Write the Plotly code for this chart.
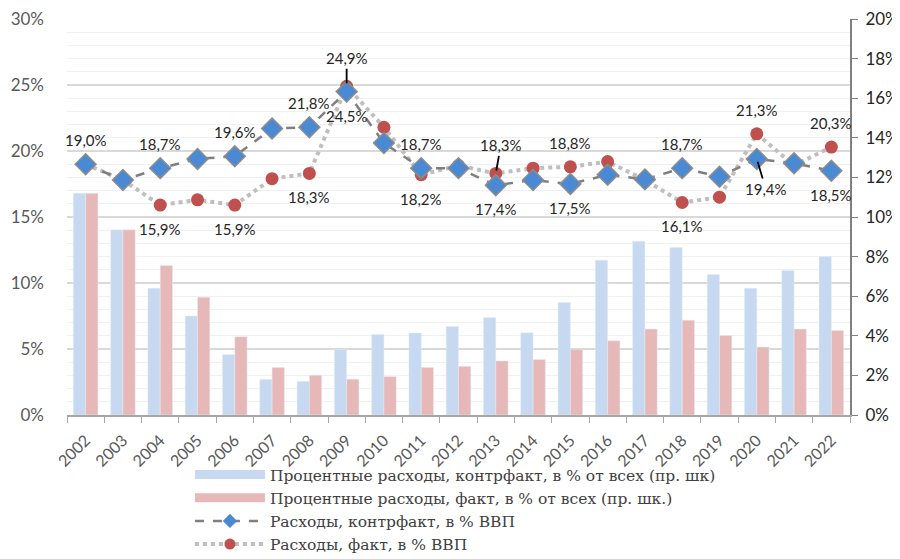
import plotly.graph_objects as go

years = [str(y) for y in range(2002, 2023)]

# bars, % of all expenditures (right axis)
bar_cf = [11.2, 9.35, 6.4, 5.0, 3.05, 1.8, 1.7, 3.3, 4.07, 4.14, 4.47, 4.92, 4.15, 5.68,
          7.82, 8.78, 8.46, 7.10, 6.40, 7.30, 8.01]
bar_f = [11.2, 9.35, 7.55, 5.95, 3.95, 2.40, 2.01, 1.81, 1.94, 2.40, 2.46, 2.73, 2.80, 3.32,
         3.75, 4.34, 4.79, 4.02, 3.43, 4.34, 4.27]

# lines, % of GDP (left axis)
gdp_cf = [19.0, 17.8, 18.7, 19.4, 19.6, 21.7, 21.8, 24.5, 20.6, 18.7, 18.7, 17.4, 17.8, 17.5,
          18.2, 17.85, 18.7, 18.05, 19.4, 19.07, 18.5]
gdp_f = [19.0, 17.8, 15.9, 16.3, 15.9, 17.9, 18.3, 24.9, 21.8, 18.2, 18.9, 18.3, 18.7, 18.8,
         19.2, 17.8, 16.1, 16.5, 21.3, 18.9, 20.3]

names = ["Процентные расходы, контрфакт, в % от всех (пр. шк)",
         "Процентные расходы, факт, в % от всех (пр. шк.)",
         "Расходы, контрфакт, в % ВВП",
         "Расходы, факт, в % ВВП"]

# which points carry a data label and where (u = above, d = below, l = leader line)
labels_cf = {"2002": "u", "2004": "u", "2006": "u", "2008": "u", "2009": "d", "2011": "u",
             "2013": "d", "2015": "d", "2018": "u", "2020": "l", "2022": "d"}
labels_f = {"2004": "d", "2006": "d", "2008": "d", "2009": "l", "2011": "d", "2013": "l",
            "2015": "u", "2018": "d", "2020": "u", "2022": "u"}
leader_offsets = {("f", "2009"): (0, -28), ("f", "2013"): (5, -28), ("cf", "2020"): (9, 30)}

BLUE_BAR = "#C6D9F0"
RED_BAR = "#E6B9B8"
BLUE_MK = "#4A89D4"
RED_MK = "#C0504D"
TXT = "#262626"

fig = go.Figure()
fig.add_trace(go.Bar(x=years, y=bar_cf, marker_color=BLUE_BAR, showlegend=False, yaxis="y"))
fig.add_trace(go.Bar(x=years, y=bar_f, marker_color=RED_BAR, showlegend=False, yaxis="y"))

fig.add_trace(go.Scatter(x=years, y=gdp_f, mode="lines+markers", name=names[3], yaxis="y2",
                         line=dict(color="#BFBFBF", width=4, dash="dot"),
                         marker=dict(symbol="circle", size=13, color=RED_MK),
                         showlegend=False))
fig.add_trace(go.Scatter(x=years, y=gdp_cf, mode="lines+markers", name=names[2], yaxis="y2",
                         line=dict(color="#7F7F7F", width=2.5, dash="dash"),
                         marker=dict(symbol="diamond", size=16, color=BLUE_MK,
                                     line=dict(color="#8C8C8C", width=1.5)),
                         showlegend=False))

# legend proxies (no visible marks)
proxy_x = [years[0]]
proxy_y = [None]
fig.add_trace(go.Scatter(x=proxy_x, y=proxy_y, mode="lines", name=names[0],
                         line=dict(color=BLUE_BAR, width=9), yaxis="y2"))
fig.add_trace(go.Scatter(x=proxy_x, y=proxy_y, mode="lines", name=names[1],
                         line=dict(color=RED_BAR, width=9), yaxis="y2"))
fig.add_trace(go.Scatter(x=proxy_x, y=proxy_y, mode="lines+markers", name=names[2], yaxis="y2",
                         line=dict(color="#7F7F7F", width=2.5, dash="dash"),
                         marker=dict(symbol="diamond", size=11, color=BLUE_MK)))
fig.add_trace(go.Scatter(x=proxy_x, y=proxy_y, mode="lines+markers", name=names[3], yaxis="y2",
                         line=dict(color="#BFBFBF", width=4, dash="dot"),
                         marker=dict(symbol="circle", size=11, color=RED_MK)))

def fmt(v):
    return f"{v:.1f}%".replace(".", ",")

annotations = []
for key, vals, labs in (("cf", gdp_cf, labels_cf), ("f", gdp_f, labels_f)):
    for yr, pos in labs.items():
        i = years.index(yr)
        v = vals[i]
        if pos == "l":
            ax, ay = leader_offsets[(key, yr)]
            annotations.append(dict(x=i, y=v, xref="x", yref="y2", text=fmt(v),
                                    showarrow=True, arrowhead=0, arrowwidth=1.8,
                                    arrowcolor="#000000", ax=ax, ay=ay, standoff=3,
                                    font=dict(family="Lato", size=15, color=TXT)))
        else:
            annotations.append(dict(x=i, y=v, xref="x", yref="y2", text=fmt(v),
                                    showarrow=False, yshift=24 if pos == "u" else -24,
                                    font=dict(family="Lato", size=15, color=TXT)))

W, H = 892, 551
fig.update_layout(
    width=W, height=H,
    margin=dict(l=59, r=50, t=11, b=144, autoexpand=False),
    paper_bgcolor="white", plot_bgcolor="white",
    barmode="group", bargap=0.34, bargroupgap=0.0,
    xaxis=dict(type="category", categoryorder="array", categoryarray=years,
               range=[-0.5, len(years) - 0.5], automargin=False,
               tickangle=-45, showline=True, linecolor="#A6A6A6", linewidth=1.5,
               ticks="outside", tickson="boundaries", ticklen=6, tickcolor="#A6A6A6",
               ticklabelstandoff=8,
               tickfont=dict(family="Lato", size=16, color="#595959"), showgrid=False),
    yaxis=dict(range=[0, 20], side="right", dtick=2, ticksuffix="%", showgrid=False,
               showline=True, linecolor="#808080", linewidth=2, ticks="outside", ticklen=6,
               tickcolor="#808080", zeroline=False, automargin=False,
               ticklabeloverflow="allow",
               tickfont=dict(family="Lato", size=17, color=TXT), ticklabelstandoff=4),
    yaxis2=dict(range=[0, 30], side="left", overlaying="y", dtick=5, ticksuffix="%",
                showgrid=True, gridcolor="#D9D9D9", gridwidth=1.5, zeroline=False,
                automargin=False, ticklabeloverflow="allow",
                minor=dict(dtick=1, showgrid=True, gridcolor="#F0F0F0", gridwidth=1.2),
                tickfont=dict(family="Lato", size=17, color="#595959"), ticklabelstandoff=22),
    legend=dict(x=0.157, y=1 - 450 / H, xref="paper", yref="container",
                xanchor="left", yanchor="top", orientation="v",
                font=dict(family="DejaVu Serif", size=15.5, color="#404040"),
                itemwidth=70, tracegroupgap=0, bgcolor="rgba(0,0,0,0)"),
    annotations=annotations,
    showlegend=True,
)

fig.write_html("out.html")
